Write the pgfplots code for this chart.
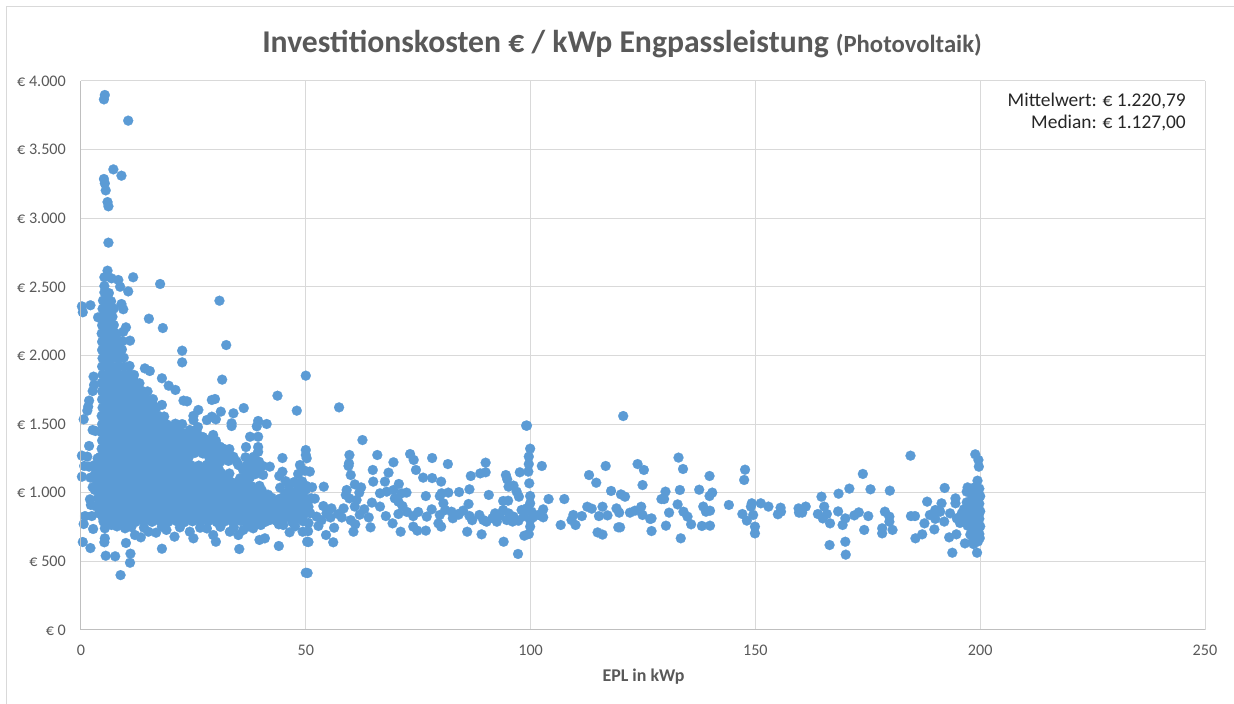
\documentclass[border=0pt]{standalone}
\usepackage{pgfplots}
\pgfplotsset{compat=1.18}
\usepackage{fontspec}
\setmainfont{Carlito}
\definecolor{pt}{HTML}{5B9BD5}
\definecolor{gridc}{HTML}{D9D9D9}
\definecolor{axisc}{HTML}{BFBFBF}
\definecolor{lab}{HTML}{595959}
\begin{document}
\begin{tikzpicture}[x=1bp,y=1bp]
\path[use as bounding box] (-81,-74) rectangle (1153,630);
\draw[gridc,line width=1bp] (-74,-74) -- (-74,623) -- (1153,623);
\begin{axis}[
  at={(0,0)},anchor=south west,scale only axis,width=1124bp,height=549bp,
  xmin=0,xmax=250,ymin=0,ymax=4000,clip=false,
  xtick={0,50,100,150,200,250},
  ytick={0,500,1000,1500,2000,2500,3000,3500,4000},
  yticklabels={€ 0,€ 500,€ 1.000,€ 1.500,€ 2.000,€ 2.500,€ 3.000,€ 3.500,€ 4.000},
  xticklabels={0,50,100,150,200,250},
  grid=major,grid style={gridc,line width=1bp},
  major tick length=0pt,
  axis line style={draw=none},
  tick label style={lab,font=\fontsize{16.2}{20}\selectfont,inner sep=0pt},
  yticklabel style={xshift=-15bp},
  xticklabel style={yshift=-14.5bp},
]
\addplot[pt,only marks,mark=*,mark size=5bp,mark options={fill=pt,draw=pt,line width=0.2bp}] coordinates {
(5.3,3898)(5.1,3866)(10.5,3711)(7.2,3356)(9.0,3310)(5.1,3286)(5.3,3254)(5.5,3203)(5.9,3118)(6.1,3087)(6.1,2822)(5.9,2618)(5.2,2570)(6.8,2562)(8.3,2550)(8.7,2501)(11.6,2570)(17.6,2521)(10.5,2467)(5.2,2506)(30.8,2399)(0.2,2358)(2.1,2366)(0.4,2315)(9,2375)(9.4,2337)(15.1,2268)(18.2,2200)(10,2205)(9.4,2173)(10.9,2108)(32.3,2076)(22.5,2035)(22.5,1950)(3.8,2278)
(31.4,1824)(50,1853)(43.7,1707)(48,1598)(18,1834)(15.3,1887)(14.2,1906)(19.5,1780)(21,1749)(22.8,1671)(23.6,1666)(29.1,1676)(29.8,1683)(26.1,1603)(31.1,1591)(33.9,1579)(36.2,1617)(33.5,1506)(33.5,1486)(25,1560)(25,1530)(28,1530)(29.1,1554)(30,1535)(39.4,1523)(41.3,1501)(39.1,1484)(24.2,1457)(26,1479)(37.6,1408)(39.4,1408)(29.4,1421)(39.4,1333)(39.4,1298)(36.7,1333)(44.8,1253)(30.9,1336)(31.9,1270)(50,1311)(50,1275)(48.7,1202)(48.3,1137)(44.8,1153)(44.1,1122)(44.3,1037)
(2.8,1846)(2.9,1785)(2.6,1741)(1.8,1671)(1.6,1627)(1.4,1598)(0.6,1535)(2.6,1457)(3.2,1450)(1.8,1341)(0.2,1270)(1.4,1263)(0.7,1195)(0.2,1117)(1.8,1190)(2.9,1200)(2.1,1110)(2.6,1040)(2,952)(2.2,911)(0.9,830)(2.4,830)(0.6,772)(2.7,736)(0.4,641)(2.1,597)(5.3,668)(5.2,639)(5.5,541)(7.6,537)(10,634)(11,556)(10.9,490)(8.8,400)(18,592)(35.2,590)(40.9,668)(39.7,656)(44,612)(46.4,712)(50.3,643)(50,417)(50.4,415)(30,643)
(4.9,814)(5.3,741)(6.8,765)(9.8,741)(12,692)(13.3,675)(15,716)(16.7,709)(19,729)(20.8,680)(24.2,716)(25,668)(29.4,692)(33.1,716)(35,692)(36.1,729)(38.3,741)(42,801)(45,765)(49.3,716)
(8,755)(11.2,750)(14,745)(18,752)(22,748)(26.5,745)(28,740)(31,752)(34,748)(37.2,755)(40,765)(44,770)(47.6,755)
(3.2,1140)(3.6,1080)(3.1,1020)(3.8,960)(4.1,1190)(3.4,900)(4.0,850)(3.7,1250)
% dense mass, rows read from the outline of the filled area
(5.2,2460)(6.2,2455)(4.9,2400)(5.8,2405)(6.7,2395)(4.8,2340)(5.6,2345)(6.5,2335)(7.3,2342)(4.6,2280)(5.4,2285)(6.2,2275)(7.0,2282)(4.7,2220)(5.5,2225)(6.4,2215)(7.3,2222)(4.6,2160)(5.4,2165)(6.2,2155)(7.1,2162)(8.0,2158)(4.7,2100)(5.6,2105)(6.5,2095)(7.4,2102)(8.3,2098)(9.2,2105)
(4.7,2040)(5.6,2045)(6.5,2035)(7.4,2042)(8.3,2038)(9.1,2044)(4.8,1980)(5.7,1985)(6.6,1975)(7.6,1982)(8.5,1978)(9.5,1984)
(4.7,1920)(5.9,1925)(7.2,1915)(8.4,1922)(9.6,1918)(10.8,1924)(4.8,1860)(6.0,1865)(7.3,1855)(8.5,1862)(9.7,1858)(10.8,1864)(11.8,1858)
(4.6,1800)(6.2,1805)(7.8,1795)(9.3,1802)(10.6,1798)(11.9,1804)(13.0,1798)(4.7,1740)(6.5,1745)(8.2,1735)(10.0,1742)(11.8,1738)(13.4,1744)(14.8,1738)
(4.7,1680)(6.4,1685)(8.1,1675)(9.9,1682)(11.6,1678)(13.2,1684)(14.7,1678)(16.0,1682)(4.8,1620)(6.6,1625)(8.4,1615)(10.2,1622)(12.0,1618)(13.7,1624)(15.4,1618)(16.8,1622)(18.0,1640)
(4.6,1560)(6.4,1565)(8.2,1555)(10.0,1562)(11.8,1558)(13.6,1564)(15.4,1558)(17.1,1562)(18.5,1555)
(4.7,1500)(6.5,1505)(8.3,1495)(10.1,1502)(11.9,1498)(13.7,1504)(15.5,1498)(17.3,1502)(19.1,1498)(21.0,1503)(22.5,1500)
(4.6,1440)(6.4,1445)(8.2,1435)(10.0,1442)(11.8,1438)(13.6,1444)(15.4,1438)(17.2,1442)(19.0,1438)(20.8,1444)(22.6,1436)(24.4,1442)(25.8,1436)
(4.7,1380)(6.5,1385)(8.3,1375)(10.1,1382)(11.9,1378)(13.7,1384)(15.5,1378)(17.3,1382)(19.1,1378)(20.9,1384)(22.7,1376)(24.5,1382)(26.3,1378)(28.1,1384)(30.0,1378)
(4.6,1320)(6.4,1325)(8.2,1315)(10.0,1322)(11.8,1318)(13.6,1324)(15.4,1318)(17.2,1322)(19.0,1318)(20.8,1324)(22.6,1316)(24.4,1322)(26.2,1318)(28.0,1324)(29.8,1316)(31.6,1322)(33.0,1318)
(4.2,1260)(6.0,1265)(7.8,1255)(9.6,1262)(11.4,1258)(13.2,1264)(15.0,1258)(16.8,1262)(18.6,1258)(20.4,1264)(22.2,1256)(24.0,1262)(28.5,1258)(30.3,1264)(32.1,1256)(33.9,1262)(36.6,1258)(38.4,1262)
(4.6,1200)(6.4,1205)(8.2,1195)(10.0,1202)(11.8,1198)(13.6,1204)(15.4,1198)(17.2,1202)(19.0,1198)(20.8,1204)(22.6,1196)(24.4,1202)(26.2,1198)(28.0,1204)(29.8,1196)(35.0,1202)(36.8,1196)(38.6,1200)(40.4,1196)(42.0,1190)
(4.2,1140)(6.0,1145)(7.8,1135)(9.6,1142)(11.4,1138)(13.2,1144)(15.0,1138)(16.8,1142)(18.6,1138)(20.4,1144)(22.2,1136)(24.0,1142)(25.8,1138)(27.6,1144)(29.4,1136)(31.2,1142)(33.0,1140)(36.8,1142)(38.8,1136)(40.5,1130)
(4.6,1080)(6.4,1085)(8.2,1075)(10.0,1082)(11.8,1078)(13.6,1084)(15.4,1078)(17.2,1082)(19.0,1078)(20.8,1084)(22.6,1076)(24.4,1082)(26.2,1078)(28.0,1084)(29.8,1076)(31.6,1082)(33.4,1078)(35.2,1084)(37.0,1080)(45.5,1085)(47.4,1078)(49.2,1082)
(4.2,1020)(6.0,1025)(7.8,1015)(9.6,1022)(11.4,1018)(13.2,1024)(15.0,1018)(16.8,1022)(18.6,1018)(20.4,1024)(22.2,1016)(24.0,1022)(25.8,1018)(27.6,1024)(29.4,1016)(31.2,1022)(33.0,1018)(34.8,1024)(36.6,1016)(38.4,1022)(40.2,1018)(46.4,1024)(48.2,1016)(50.0,1022)
(4.6,960)(6.4,965)(8.2,955)(10.0,962)(11.8,958)(13.6,964)(15.4,958)(17.2,962)(19.0,958)(20.8,964)(22.6,956)(24.4,962)(26.2,958)(28.0,964)(29.8,956)(31.6,962)(33.4,958)(35.2,964)(37.0,956)(38.8,962)(40.6,958)(42.4,964)(44.2,956)(46.0,962)(47.8,958)(49.6,964)
(4.2,900)(6.0,905)(7.8,895)(9.6,902)(11.4,898)(13.2,904)(15.0,898)(16.8,902)(18.6,898)(20.4,904)(22.2,896)(24.0,902)(25.8,898)(27.6,904)(29.4,896)(31.2,902)(33.0,898)(34.8,904)(36.6,896)(38.4,902)(40.2,898)(42.0,904)(43.8,896)(45.6,902)(47.4,898)(49.2,904)(50.6,898)
(4.6,840)(6.4,845)(8.2,835)(10.0,842)(11.8,838)(13.6,844)(15.4,838)(17.2,842)(19.0,838)(20.8,844)(22.6,836)(24.4,842)(26.2,838)(28.0,844)(29.8,836)(31.6,842)(33.4,838)(35.2,844)(37.0,836)(38.8,842)(40.6,838)(42.4,844)(44.2,836)(46.0,842)(47.8,838)(49.6,844)
(5.0,790)(6.8,795)(8.6,785)(10.4,792)(12.2,788)(14.0,794)(15.8,788)(17.6,792)(19.4,788)(21.2,794)(23.0,786)(24.8,792)(26.6,788)(28.4,794)(30.2,786)(32.0,792)(33.8,788)(35.6,794)(37.4,786)(39.2,792)(41.0,788)(43.5,794)(47.0,786)(49.4,792)
(51.0,850)(50.6,780)(50.5,720)(49.8,1160)(50.2,1251)(50.9,1154)(51.4,1040)(51.2,960)
% second layer of the dense mass
(5.5,1830)(7.0,1832)(8.8,1828)(10.2,1830)(11.6,1826)(5.6,1770)(7.4,1772)(9.1,1768)(10.9,1770)(12.6,1766)(5.6,1710)(7.3,1712)(9.0,1708)(10.8,1710)(12.4,1706)(14.1,1712)
(5.6,1650)(7.5,1652)(9.3,1648)(11.1,1650)(12.9,1646)(14.6,1652)(15.8,1648)(5.5,1590)(7.3,1592)(9.1,1588)(10.9,1590)(12.7,1586)(14.5,1592)(16.2,1588)
(5.5,1530)(7.3,1532)(9.2,1528)(11.0,1530)(12.8,1526)(14.6,1532)(16.4,1528)(18.2,1530)
(5.6,1470)(7.4,1472)(9.2,1468)(11.0,1470)(12.8,1466)(14.6,1472)(16.4,1468)(18.2,1470)(20.0,1466)(21.6,1470)
(5.5,1410)(7.3,1412)(9.1,1408)(10.9,1410)(12.7,1406)(14.5,1412)(16.3,1408)(18.1,1410)(19.9,1406)(21.7,1412)(23.5,1408)(25.3,1410)(27.1,1406)
(5.6,1350)(7.4,1352)(9.2,1348)(11.0,1350)(12.8,1346)(14.6,1352)(16.4,1348)(18.2,1350)(20.0,1346)(21.8,1352)(23.6,1348)(25.4,1350)(27.2,1346)(29.0,1352)
(5.5,1290)(7.3,1292)(9.1,1288)(10.9,1290)(12.7,1286)(14.5,1292)(16.3,1288)(18.1,1290)(19.9,1286)(21.7,1292)(23.5,1288)(25.3,1290)(27.1,1286)(29.0,1292)(30.8,1288)(32.6,1290)
(5.6,1230)(7.4,1232)(9.2,1228)(11.0,1230)(12.8,1226)(14.6,1232)(16.4,1228)(18.2,1230)(20.0,1226)(21.8,1232)(23.6,1228)(29.2,1230)(31.0,1226)(32.8,1232)(34.6,1228)(37.4,1230)(39.6,1226)
(5.5,1170)(7.3,1172)(9.1,1168)(10.9,1170)(12.7,1166)(14.5,1172)(16.3,1168)(18.1,1170)(19.9,1166)(21.7,1172)(23.5,1168)(25.3,1170)(27.1,1166)(28.9,1172)(30.7,1168)(36.0,1170)(37.8,1166)(39.5,1168)
(5.6,1110)(7.4,1112)(9.2,1108)(11.0,1110)(12.8,1106)(14.6,1112)(16.4,1108)(18.2,1110)(20.0,1106)(21.8,1112)(23.6,1108)(25.4,1110)(27.2,1106)(29.0,1112)(30.8,1108)(32.6,1110)(35.4,1106)(37.6,1112)
(5.5,1050)(7.3,1052)(9.1,1048)(10.9,1050)(12.7,1046)(14.5,1052)(16.3,1048)(18.1,1050)(19.9,1046)(21.7,1052)(23.5,1048)(25.3,1050)(27.1,1046)(28.9,1052)(30.7,1048)(32.5,1050)(34.3,1046)(36.1,1052)(37.9,1048)(39.7,1050)(46.3,1052)(48.5,1048)(50.1,1050)
(5.6,990)(7.4,992)(9.2,988)(11.0,990)(12.8,986)(14.6,992)(16.4,988)(18.2,990)(20.0,986)(21.8,992)(23.6,988)(25.4,990)(27.2,986)(29.0,992)(30.8,988)(32.6,990)(34.4,986)(36.2,992)(38.0,988)(39.8,990)(41.6,986)(45.4,992)(47.2,988)(49.0,990)
(5.5,930)(7.3,932)(9.1,928)(10.9,930)(12.7,926)(14.5,932)(16.3,928)(18.1,930)(19.9,926)(21.7,932)(23.5,928)(25.3,930)(27.1,926)(28.9,932)(30.7,928)(32.5,930)(34.3,926)(36.1,932)(37.9,928)(39.7,930)(41.5,926)(43.3,932)(45.1,928)(46.9,930)(48.7,926)(50.4,930)
(5.6,870)(7.4,872)(9.2,868)(11.0,870)(12.8,866)(14.6,872)(16.4,868)(18.2,870)(20.0,866)(21.8,872)(23.6,868)(25.4,870)(27.2,866)(29.0,872)(30.8,868)(32.6,870)(34.4,866)(36.2,872)(38.0,868)(39.8,870)(41.6,866)(43.4,872)(45.2,868)(47.0,870)(48.8,866)(50.5,870)
(5.5,812)(7.3,815)(9.1,810)(10.9,813)(12.7,808)(14.5,815)(16.3,810)(18.1,813)(19.9,808)(21.7,815)(23.5,810)(25.3,813)(27.1,808)(28.9,815)(30.7,810)(32.5,813)(34.3,808)(36.1,815)(37.9,810)(39.7,813)(41.5,810)(43.3,815)(45.1,810)(46.9,813)(48.7,808)
% sparse middle part
(57.4,1622)(62.6,1384)(59.7,1275)(59.6,1214)(59.5,1195)(60,1129)(65.9,1275)(69.5,1222)(64.9,1166)(68.4,1146)(65,1081)(67.6,1081)(73.2,1282)(74,1239)(74.5,1166)(78.1,1253)(81.6,1209)(76.1,1110)(78.1,1107)(80.1,1081)(70.7,1064)(54,1044)(60.9,1061)(62.3,1039)(59.1,1020)(58.9,984)(59.7,959)(61.9,1001)(72.4,1001)(71.3,996)(76.7,976)(66.5,996)(68,1008)(69.5,1020)(64.7,928)(66.5,899)(69.8,959)(70.6,935)(71.5,903)(52,957)(58.4,886)(61.3,947)(60.9,899)(53.9,903)(55.7,886)(57.2,845)(52.4,826)(54.6,850)(52.8,758)(56.3,745)(54.5,692)(56.1,639)(50.6,641)(60.6,716)(64.4,748)(70.6,845)(67.8,830)(69.3,777)(71.1,716)(73.9,830)(73.9,753)(74.8,724)(76.7,724)(76.9,826)(78,879)(79.8,838)(79.5,777)(80.1,753)(80.6,923)(79.8,976)(80.2,996)(81.7,1001)(84.1,1005)(81,874)(82.4,862)(83.9,845)(82.7,814)(86.2,918)(86.4,1025)(86.7,1122)(88.8,1141)(90,1149)(90,1219)(90.7,984)(85.9,716)(89.1,697)(86.4,831)(88.6,838)(89.5,801)(90.2,789)(92.1,850)(92.5,789)(93.9,874)(95.1,850)(96.2,826)(94.7,801)(97.3,796)(94,643)(97.2,554)(94.5,1129)(94.8,1098)(95.1,1044)(96.2,1052)(96.9,1008)(97.4,971)(93.9,940)(95,942)(97.6,1149)(99.5,1154)(99,1489)(99.2,1489)(99.9,1321)(99.6,1263)(99.6,1209)(99.7,1069)(99.9,976)(99.9,923)(98,874)(99.1,886)(100.2,862)(99.9,801)(99.9,753)(98.6,687)(99.6,699)(102.5,1195)(104,954)(102.8,879)(102.8,821)(101.7,838)(107.5,954)(106.7,765)(109.5,838)(109.1,801)(110,765)(111.4,830)(112.6,898)(113.6,884)(113,1129)(114.6,1073)(116.7,1195)(117.9,1013)(120.1,988)(121,971)(116,898)(115.2,830)(117.1,835)(114.9,711)(116,695)(119.1,886)(119.7,855)(119.5,748)(119.9,748)(120.6,1559)(122.1,855)(123.2,869)(124.6,898)(124.9,838)(123.8,1209)(125.2,1166)(124.9,1056)(126.6,809)(126.9,721)(129.1,954)
(84,840)(85,870)(62,840)(63,880)(64,820)(60,800)(58,820)(61,770)(55.5,820)(53.5,800)(72.5,860)(75,860)(87,800)(91.5,815)(93,830)(96,790)(98.5,830)(100.5,820)
% right part
(132.9,1256)(133.9,1173)(139.8,1122)(130,1008)(129.7,954)(133.2,1020)(137.5,1022)(140.4,1001)(139.8,976)(132.7,915)(130.8,855)(134,862)(134.9,826)(135.7,770)(130.1,760)(126.9,813)(133.4,668)(138.1,758)(139.9,760)(138.4,899)(139,862)(139.9,869)(147.7,1168)(147.5,1093)(144.1,911)(149.2,923)(149,899)(147.1,845)(148.1,797)(149.5,838)(149.9,753)(149.9,704)(151.2,923)(152.9,899)(155.6,891)(155.7,862)(155,843)(159.6,886)(159.7,855)(160.4,855)(161.2,899)(164.7,971)(165.3,899)(163.9,845)(165,813)(165.9,845)(166.6,777)(168.5,993)(170.9,1030)(168.4,864)(170,813)(169.4,765)(170,643)(166.5,619)(170.1,549)(172,835)(173,857)(175.1,830)(174.2,729)(173.9,1137)(175.6,1025)(179.9,1015)(178.8,862)(179.8,826)(179.8,789)(178.2,741)(178.2,704)(180.5,729)(184.5,1270)(184.6,830)(185.5,830)(185.6,668)(187.1,697)(187.6,777)(188.2,935)(192.1,1035)(189.8,733)(188.8,838)(190,874)(191.1,862)(191.4,923)(193.1,675)(194.7,697)(193.8,563)(196.6,631)(198.5,626)(194.5,959)(194.5,923)(193.3,850)(194.8,813)(195.9,850)(196.6,801)(197.2,1039)(197,1008)(198.9,1280)(199.6,1239)(199.7,1190)(199.4,1088)(199.3,563)(190,810)(192,790)(195.5,780)(196.4,880)(197,930)(197.2,760)
(197.8,1020)(198.8,1040)(199.8,1030)(198.2,970)(199.2,985)(200,975)(197.8,915)(198.8,925)(199.8,920)(198.2,860)(199.2,870)(200,865)(197.8,805)(198.8,815)(199.8,810)(198.2,750)(199.2,760)(200,755)(197.8,695)(198.8,705)(199.8,700)(198.4,650)(199.5,645)
(198.4,1000)(199.5,1005)(198.4,945)(199.5,950)(198.4,890)(199.5,895)(197.6,840)(198.7,835)(199.7,840)(198.3,780)(199.4,785)(198.3,725)(199.4,730)(198.9,672)(199.9,670)
};
\end{axis}
\draw[axisc,line width=1bp] (0,549) -- (0,0) -- (1124,0);
\node[anchor=base,text=lab,inner sep=0pt] at (541,577) {\bfseries\fontsize{31.8}{38}\selectfont Investitionskosten € / kWp Engpassleistung \fontsize{24.8}{28}\selectfont (Photovoltaik)};
\node[anchor=base,text=lab,inner sep=0pt] at (562.5,-52) {\bfseries\fontsize{18}{21}\selectfont EPL in kWp};
\node[anchor=base east,text=black!85,inner sep=0pt] at (1105,523) {\fontsize{19.5}{23}\selectfont Mittelwert: € 1.220,79};
\node[anchor=base east,text=black!85,inner sep=0pt] at (1105,501) {\fontsize{19.5}{23}\selectfont Median: € 1.127,00};
\end{tikzpicture}
\end{document}
